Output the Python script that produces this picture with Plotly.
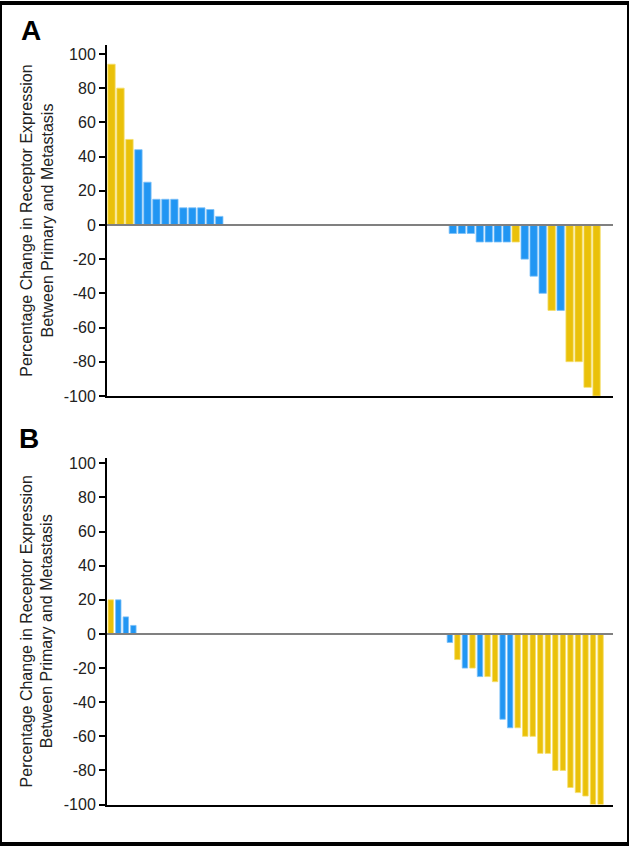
import plotly.graph_objects as go

YEL = "#EAC10A"
BLU = "#2196F3"
YEL_EDGE = "#F5DE6A"
BLU_EDGE = "#7CC0F8"

# Panel A
a_x = list(range(0, 13)) + list(range(38, 55))
a_vals = [94, 80, 50, 44, 25, 15, 15, 15, 10, 10, 10, 9, 5,
          -5, -5, -5, -10, -10, -10, -10, -10, -20, -30, -40, -50, -50, -80, -80, -95, -100]
a_grp = ["Y", "Y", "Y", "B", "B", "B", "B", "B", "B", "B", "B", "B", "B",
         "B", "B", "B", "B", "B", "B", "B", "Y", "B", "B", "B", "Y", "B", "Y", "Y", "Y", "Y"]

# Panel B
b_x = list(range(0, 4)) + list(range(45, 66))
b_vals = [20, 20, 10, 5,
          -5, -15, -20, -20, -25, -25, -28, -50, -55, -55, -60, -60, -70, -70,
          -80, -80, -90, -93, -95, -100, -100]
b_grp = ["Y", "B", "B", "B",
         "B", "Y", "B", "Y", "B", "Y", "Y", "B", "B", "Y", "Y", "Y", "Y", "Y",
         "Y", "Y", "Y", "Y", "Y", "Y", "Y"]

tick_vals = [-100, -80, -60, -40, -20, 0, 20, 40, 60, 80, 100]
tick_text = ["-100", "-80", "-60", "-40", "-20", "0", "20", "40", "60", "80", "100"]

cmap = {"Y": YEL, "B": BLU}
emap = {"Y": YEL_EDGE, "B": BLU_EDGE}
W, H = 629, 853

fig = go.Figure()
fig.add_trace(go.Bar(x=a_x, y=a_vals,
                     marker=dict(color=[cmap[g] for g in a_grp],
                                 line=dict(width=0.8, color=[emap[g] for g in a_grp])),
                     width=0.82, xaxis="x", yaxis="y", showlegend=False))
fig.add_trace(go.Bar(x=b_x, y=b_vals,
                     marker=dict(color=[cmap[g] for g in b_grp],
                                 line=dict(width=0.8, color=[emap[g] for g in b_grp])),
                     width=0.72, xaxis="x2", yaxis="y2", showlegend=False))

xd = [107 / W, 613 / W]
dom_a = [1 - 398.5 / H, 1 - 43 / H]
dom_b = [1 - 813 / H, 1 - 461.7 / H]

yax = dict(range=[-100, 105], tickvals=tick_vals, ticktext=tick_text, ticks="outside", ticklen=6,
           tickwidth=2, tickcolor="black", showline=True, linecolor="black", linewidth=2,
           showgrid=False, zeroline=False, tickfont=dict(family="Liberation Sans, Arial", size=16, color="#222"))
xax = dict(showline=True, linecolor="black", linewidth=2, showticklabels=False, ticks="",
           showgrid=False, zeroline=False)

fig.update_layout(
    width=W, height=H, margin=dict(l=0, r=0, t=0, b=0),
    paper_bgcolor="white", plot_bgcolor="white",
    xaxis=dict(xax, domain=xd, range=[-0.5, 55.83], anchor="y"),
    yaxis=dict(yax, domain=dom_a, anchor="x"),
    xaxis2=dict(xax, domain=xd, range=[-0.5, 66.65], anchor="y2"),
    yaxis2=dict(yax, domain=dom_b, anchor="x2", range=[-100, 103]),
)

# zero lines
fig.add_shape(type="line", xref="x", yref="y", x0=-0.5, x1=55.83, y0=0, y1=0,
              line=dict(color="#808080", width=2), layer="above")
fig.add_shape(type="line", xref="x2", yref="y2", x0=-0.5, x1=66.65, y0=0, y1=0,
              line=dict(color="#808080", width=2), layer="above")

title = "Percentage Change in Receptor Expression<br>Between Primary and Metastasis"
for dom in (dom_a, dom_b):
    fig.add_annotation(text=title, xref="paper", yref="paper", x=37 / W, y=(dom[0] + dom[1]) / 2,
                       xanchor="center", yanchor="middle", textangle=-90, showarrow=False,
                       font=dict(family="Liberation Sans, Arial", size=16, color="#222"))

fig.add_annotation(text="<b>A</b>", xref="paper", yref="paper", x=31 / W, y=1 - 28 / H,
                   xanchor="center", yanchor="middle", showarrow=False,
                   font=dict(family="Liberation Sans, Arial", size=28, color="black"))
fig.add_annotation(text="<b>B</b>", xref="paper", yref="paper", x=29 / W, y=1 - 442 / H,
                   xanchor="center", yanchor="middle", showarrow=False,
                   font=dict(family="Liberation Sans, Arial", size=28, color="black"))

# frame
fig.add_shape(type="rect", xref="paper", yref="paper", x0=0, x1=1, y0=0, y1=1,
              line=dict(color="black", width=4), layer="above")

post = ("var d=document.getElementById('{plot_id}');"
        "d.style.position='fixed';d.style.top='0px';d.style.left='0px';"
        "document.body.style.margin='0';document.documentElement.style.overflow='hidden';"
        "document.body.style.overflow='hidden';")
fig.write_html("out.html", config={"displayModeBar": False}, post_script=post)
